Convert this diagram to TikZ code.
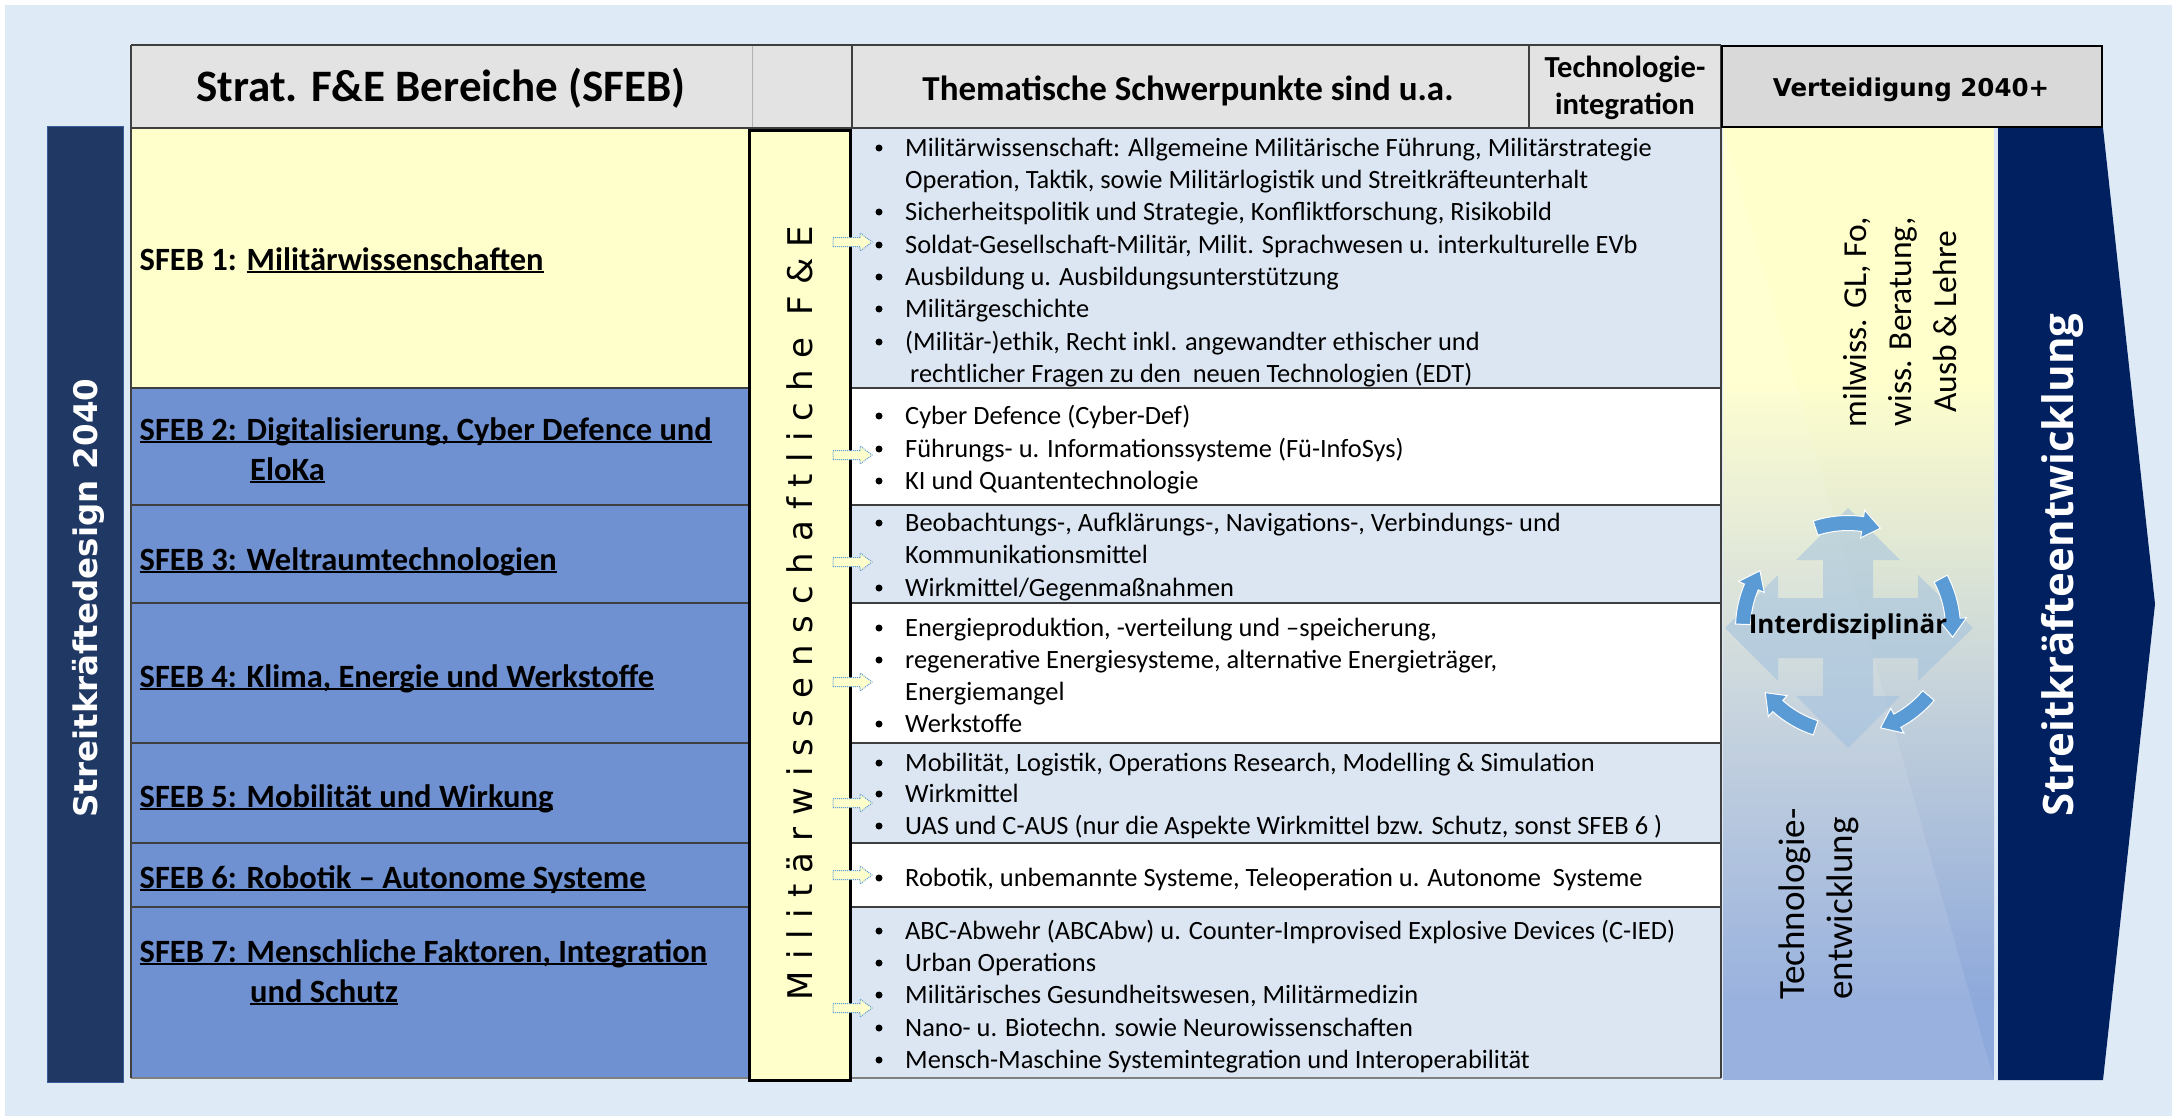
\documentclass[tikz,border=0pt]{standalone}
\usepackage{fontspec}
\setmainfont{Carlito}
\newfontfamily\dejavu{DejaVu Sans}
\newfontfamily\fesp{DejaVu Sans}[LetterSpace=33]
\newfontfamily\osans{Open Sans}
\definecolor{bgc}{HTML}{DEEAF6}
\definecolor{navybar}{HTML}{203864}
\definecolor{baredge}{HTML}{3A5A9A}
\definecolor{navyarrow}{HTML}{002060}
\definecolor{yellowc}{HTML}{FFFFCC}
\definecolor{sfebblue}{HTML}{6F91D1}
\definecolor{lbc}{HTML}{DCE6F2}
\definecolor{hdrgrey}{HTML}{E3E3E3}
\definecolor{vertgrey}{HTML}{D9D9D9}
\definecolor{tline}{HTML}{3F3F3F}
\definecolor{cycblue}{HTML}{5B9BD5}
\definecolor{quadc}{HTML}{9DBFDF}
\definecolor{panelblue}{HTML}{8EA9DB}
\definecolor{panelmid}{HTML}{C6D3DB}
\newcommand\myul[1]{\setbox0=\hbox{#1}\rlap{\rule[-0.1em]{\wd0}{0.065em}}\box0}
\newcommand\bulline[3]{\node[bul] (#1b) at (879,{#2-8}) {}; \node[txt] (#1) at (905,#2) {#3};}
\newcommand\contline[3]{\node[txt] (#1) at (905,#2) {#3};}
\newcommand\fea[2]{\draw[feastyle] (833,{#2-4.5}) -- (860,{#2-4.5}) -- (860,{#2-9}) -- (872,#2) -- (860,{#2+9}) -- (860,{#2+4.5}) -- (833,{#2+4.5}) -- cycle;}
\newcommand\cyc[2]{\filldraw[cycst] ({#1+#2}:112.5pt) arc[start angle={#1+#2}, end angle={#1-8}, radius=112.5pt] -- ({#1-8}:119pt) -- ({#1-18}:105pt) -- ({#1-8}:91pt) -- ({#1-8}:97.5pt) arc[start angle={#1-8}, end angle={#1+#2}, radius=97.5pt] -- cycle;}
\begin{document}
\begin{tikzpicture}[x=1pt,y=-1pt,
  txt/.style={anchor=base west, inner sep=0pt, font=\fontsize{26.4}{32}\selectfont},
  bul/.style={circle, fill=black, inner sep=0pt, minimum size=7pt},
  sfeb/.style={anchor=base west, inner sep=0pt, font=\bfseries\fontsize{32.5}{40}\selectfont},
  rowline/.style={draw=tline, line width=2.2pt},
  feastyle/.style={fill=yellowc, draw=cycblue, densely dotted, line width=1pt},
  cycst/.style={fill=cycblue, draw=white, line width=1pt}]
\useasboundingbox (0,0) rectangle (2172,1116);
\fill[bgc] (0,0) rectangle (2172,1116);
\fill[white] (0,0) rectangle (2172,5);
\fill[white] (0,0) rectangle (5,1116);
% left bar
\filldraw[fill=navybar, draw=baredge, line width=1pt] (47,126) rectangle (123,1082);
\node[rotate=90, text=white, inner sep=0pt, font=\dejavu\bfseries\fontsize{32.5}{38}\selectfont] (sd) at (88,598) {Streitkräftedesign 2040};
% header
\fill[hdrgrey] (131,45) rectangle (1721,128);
\draw[draw=gray!60, line width=1pt] (752,45) -- (752,128);
% body fills
\fill[yellowc] (131,128) rectangle (749,388);
\fill[sfebblue] (131,388) rectangle (749,1078);
\fill[lbc] (850,128) rectangle (1721,388);
\fill[white] (850,388) rectangle (1721,505);
\fill[lbc] (850,505) rectangle (1721,603);
\fill[white] (850,603) rectangle (1721,743);
\fill[lbc] (850,743) rectangle (1721,843);
\fill[white] (850,843) rectangle (1721,907);
\fill[lbc] (850,907) rectangle (1721,1078);
\foreach \yy in {388,505,603,743,843,907} {\draw[rowline] (131,\yy) -- (1721,\yy);}
\draw[rowline, draw=gray] (131,1078) -- (1721,1078);
\draw[rowline] (131,45) -- (1721,45);
\draw[rowline] (131,128) -- (1721,128);
\draw[rowline] (131,45) -- (131,1078);
\draw[rowline] (852,45) -- (852,128);
\draw[rowline] (1529,45) -- (1529,128);
\draw[rowline] (1721,45) -- (1721,1078);
% F&E column
\filldraw[fill=yellowc, draw=black, line width=3pt] (749,130) rectangle (850,1080);
\node[rotate=90, inner sep=0pt, font=\fesp\fontsize{34}{40}\selectfont] (fe) at (800,613) {Militärwissenschaftliche F\&E};
% arrows from F&E column
\fea{a1}{242}
\fea{a2}{455}
\fea{a3}{562}
\fea{a4}{682}
\fea{a5}{803}
\fea{a6}{875}
\fea{a7}{1008}
% right panel
\fill[yellowc] (1723,128) rectangle (1994,380);
\shade[top color=yellowc, bottom color=panelmid] (1723,379) rectangle (1994,690);
\shade[top color=panelmid, bottom color=panelblue] (1723,689) rectangle (1994,1000);
\fill[panelblue] (1723,999) rectangle (1994,1080);
\fill[white, opacity=.1] (1723,128) -- (1994,1080) -- (1723,1080) -- cycle;
\fill[navyarrow] (1998,128) -- (2103,128) -- (2155,604) -- (2103,1080) -- (1998,1080) -- cycle;
\filldraw[fill=vertgrey, draw=black, line width=1.5pt] (1722,46) rectangle (2102,127);
% cycle
\begin{scope}[shift={(1848,628)}]
\fill[quadc, opacity=.5] (0,-120) -- (52,-68) -- (25,-68) -- (25,-30) -- (70,-30) -- (70,-53) -- (125,0) -- (70,53) -- (70,30) -- (25,30) -- (25,68) -- (52,68) -- (0,120) -- (-52,68) -- (-25,68) -- (-25,30) -- (-70,30) -- (-70,53) -- (-123,0) -- (-70,-53) -- (-70,-30) -- (-25,-30) -- (-25,-68) -- (-52,-68) -- cycle;
\cyc{90}{18}
\cyc{13}{15}
\cyc{-54}{14}
\cyc{-124}{16}
\cyc{165}{13}
\end{scope}
\node[inner sep=0pt, font=\osans\bfseries\fontsize{26}{30}\selectfont] (inter) at (1848,627) {Interdisziplinär};
\node[rotate=90, align=center, inner sep=0pt, font=\fontsize{33.5}{45}\selectfont] (milw) at (1900,322) {milwiss. GL, Fo,\\wiss. Beratung,\\Ausb \& Lehre};
\node[rotate=90, align=left, inner sep=0pt, font=\fontsize{37}{48}\selectfont] (tech) at (1819,904) {Technologie-\\entwicklung};
\node[rotate=90, text=white, inner sep=0pt, font=\osans\bfseries\fontsize{42}{48}\selectfont] (se) at (2062,565) {Streitkräfteentwicklung};
% header texts
\node[anchor=base, inner sep=0pt, font=\bfseries\fontsize{45}{50}\selectfont] (hsfeb) at (441,102) {Strat. F\&E Bereiche (SFEB)};
\node[anchor=base, inner sep=0pt, font=\bfseries\fontsize{35}{40}\selectfont] (hthem) at (1188,100) {Thematische Schwerpunkte sind u.a.};
\node[align=center, inner sep=0pt, font=\bfseries\fontsize{30.6}{37}\selectfont] (htech) at (1625,88) {Technologie-\\integration};
\node[anchor=base, inner sep=0pt, font=\dejavu\bfseries\fontsize{24.5}{28}\selectfont] (hvert) at (1911,96) {Verteidigung 2040+};
% SFEB texts
\node[sfeb] (s1) at (139.5,270) {SFEB 1: \myul{Militärwissenschaften}};
\node[sfeb] (s2) at (139.5,440) {\myul{SFEB 2: Digitalisierung, Cyber Defence und}};
\node[sfeb] (s2b) at (250,480) {\myul{EloKa}};
\node[sfeb] (s3) at (139.5,570) {\myul{SFEB 3: Weltraumtechnologien}};
\node[sfeb] (s4) at (139.5,687) {\myul{SFEB 4: Klima, Energie und Werkstoffe}};
\node[sfeb] (s5) at (139.5,807) {\myul{SFEB 5: Mobilität und Wirkung}};
\node[sfeb] (s6) at (139.5,888) {\myul{SFEB 6: Robotik -- Autonome Systeme}};
\node[sfeb] (s7) at (139.5,962) {\myul{SFEB 7: Menschliche Faktoren, Integration}};
\node[sfeb] (s7b) at (250,1002) {\myul{und Schutz}};
% content
\bulline{r1a}{156}{Militärwissenschaft: Allgemeine Militärische Führung, Militärstrategie}
\contline{r1b}{188}{Operation, Taktik, sowie Militärlogistik und Streitkräfteunterhalt}
\bulline{r1c}{220}{Sicherheitspolitik und Strategie, Konfliktforschung, Risikobild}
\bulline{r1d}{253}{Soldat-Gesellschaft-Militär, Milit. Sprachwesen u. interkulturelle EVb}
\bulline{r1e}{285}{Ausbildung u. Ausbildungsunterstützung}
\bulline{r1f}{317}{Militärgeschichte}
\bulline{r1g}{350}{(Militär-)ethik, Recht inkl. angewandter ethischer und}
\node[txt] (r1h) at (910,382) {rechtlicher Fragen zu den~ neuen Technologien (EDT)};
\bulline{r2a}{424}{Cyber Defence (Cyber-Def)}
\bulline{r2b}{457}{Führungs- u. Informationssysteme (Fü-InfoSys)}
\bulline{r2c}{489}{KI und Quantentechnologie}
\bulline{r3a}{531}{Beobachtungs-, Aufklärungs-, Navigations-, Verbindungs- und}
\contline{r3b}{563}{Kommunikationsmittel}
\bulline{r3c}{596}{Wirkmittel/Gegenmaßnahmen}
\bulline{r4a}{636}{Energieproduktion, -verteilung und –speicherung,}
\bulline{r4b}{668}{regenerative Energiesysteme, alternative Energieträger,}
\contline{r4c}{700}{Energiemangel}
\bulline{r4d}{732}{Werkstoffe}
\bulline{r5a}{771}{Mobilität, Logistik, Operations Research, Modelling \& Simulation}
\bulline{r5b}{802}{Wirkmittel}
\bulline{r5c}{834}{UAS und C-AUS (nur die Aspekte Wirkmittel bzw. Schutz, sonst SFEB 6 )}
\bulline{r6a}{886}{Robotik, unbemannte Systeme, Teleoperation u. Autonome~ Systeme}
\bulline{r7a}{939}{ABC-Abwehr (ABCAbw) u. Counter-Improvised Explosive Devices (C-IED)}
\bulline{r7b}{971}{Urban Operations}
\bulline{r7c}{1003}{Militärisches Gesundheitswesen, Militärmedizin}
\bulline{r7d}{1036}{Nano- u. Biotechn. sowie Neurowissenschaften}
\bulline{r7e}{1068}{Mensch-Maschine Systemintegration und Interoperabilität}
\end{tikzpicture}
\end{document}
